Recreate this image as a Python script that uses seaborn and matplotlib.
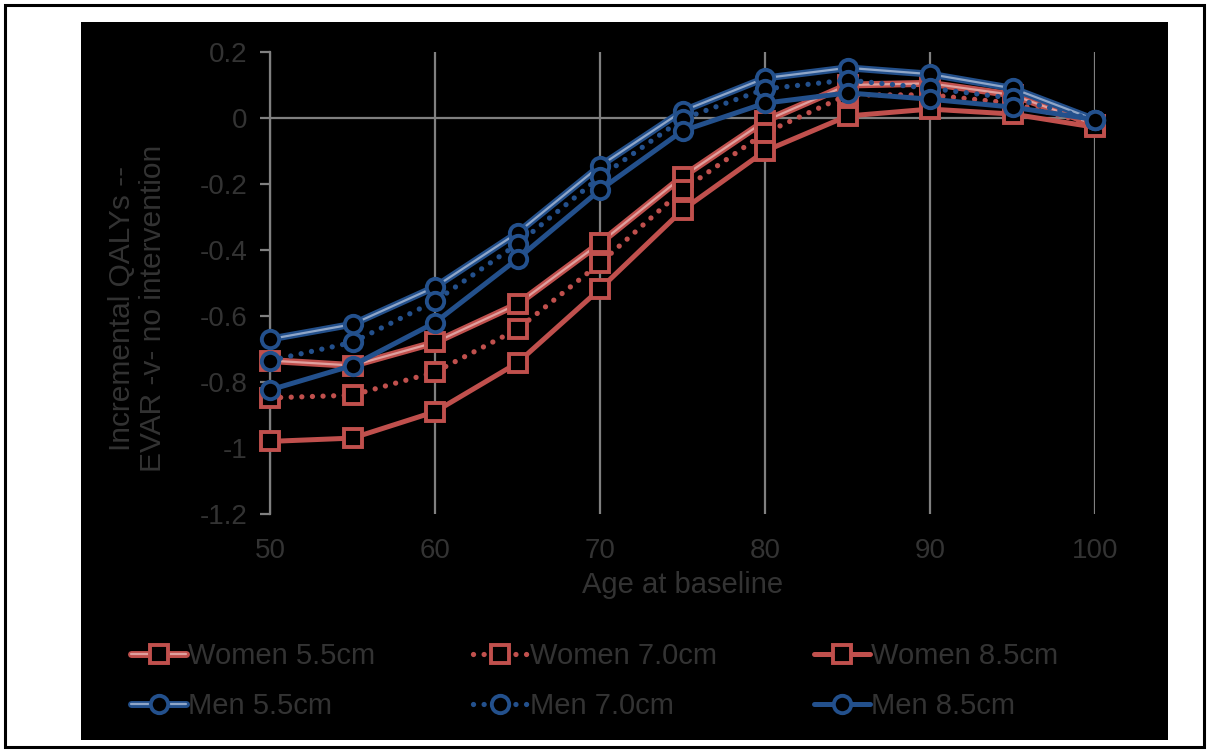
import numpy as np
import pandas as pd
import seaborn as sns
import matplotlib.pyplot as plt
import matplotlib.patheffects as pe
from matplotlib.lines import Line2D
from matplotlib.patches import Rectangle
from matplotlib.legend_handler import HandlerTuple

# data
ages = [50, 55, 60, 65, 70, 75, 80, 85, 90, 95, 100]
women_55 = [-0.735, -0.750, -0.680, -0.564, -0.379, -0.178, -0.009, 0.100, 0.105, 0.070, -0.020]
women_70 = [-0.848, -0.840, -0.770, -0.640, -0.440, -0.218, -0.045, 0.070, 0.070, 0.045, -0.020]
women_85 = [-0.980, -0.970, -0.890, -0.742, -0.518, -0.279, -0.100, 0.006, 0.027, 0.012, -0.028]
men_55 = [-0.670, -0.625, -0.512, -0.348, -0.145, 0.021, 0.121, 0.152, 0.133, 0.090, -0.005]
men_70 = [-0.735, -0.680, -0.555, -0.382, -0.179, -0.003, 0.088, 0.115, 0.090, 0.060, -0.005]
men_85 = [-0.824, -0.750, -0.620, -0.427, -0.218, -0.039, 0.045, 0.076, 0.057, 0.033, -0.005]

series_names = ["Women 5.5cm", "Women 7.0cm", "Women 8.5cm",
                "Men 5.5cm", "Men 7.0cm", "Men 8.5cm"]
series_values = [women_55, women_70, women_85, men_55, men_70, men_85]

y_ticks = [0.2, 0, -0.2, -0.4, -0.6, -0.8, -1.0, -1.2]
y_tick_labels = ["0.2", "0", "-0.2", "-0.4", "-0.6", "-0.8", "-1", "-1.2"]
x_ticks = [50, 60, 70, 80, 90, 100]

df = pd.DataFrame({
    "age": ages * len(series_names),
    "qaly": np.concatenate(series_values),
    "series": np.repeat(series_names, len(ages)),
})

sns.set_style("white")
plt.rcParams["font.family"] = ["Liberation Sans", "DejaVu Sans"]
plt.rcParams["axes.unicode_minus"] = False

RED = "#C0504D"
BLUE = "#23508C"
RED_IN = "#E0A09E"
BLUE_IN = "#8FA6C8"
TXT = "#333333"
GRID = "#808080"

style = {
    "Women 5.5cm": (RED, "double", "s"),
    "Women 7.0cm": (RED, "dotted", "s"),
    "Women 8.5cm": (RED, "solid", "s"),
    "Men 5.5cm": (BLUE, "double", "o"),
    "Men 7.0cm": (BLUE, "dotted", "o"),
    "Men 8.5cm": (BLUE, "solid", "o"),
}

fig = plt.figure(figsize=(12.08, 7.51), dpi=100)
fig.patch.set_facecolor("white")

# outer frame and black panel (behind the axes)
fig.add_artist(Rectangle((5 / 1208, 1 - 747 / 751), 1199 / 1208, 742 / 751,
                         transform=fig.transFigure, facecolor="white",
                         edgecolor="black", lw=2.2, zorder=-3))
fig.add_artist(Rectangle((81 / 1208, 1 - 740 / 751), 1087 / 1208, 718 / 751,
                         transform=fig.transFigure, facecolor="black",
                         edgecolor="none", zorder=-2))

ax = fig.add_axes([270 / 1208, 1 - 514 / 751, 825 / 1208, 462 / 751])
ax.set_facecolor("black")

ax.axhline(0, color=GRID, lw=1.6, zorder=1)

handles = {}
for i, name in enumerate(series_names):
    color, kind, marker = style[name]
    sub = df[df["series"] == name]
    z = 3 + i
    if kind == "double":
        inner = RED_IN if color == RED else BLUE_IN
        effects = [pe.Stroke(linewidth=5.0, foreground=color),
                   pe.Stroke(linewidth=1.6, foreground=inner)]
        sns.lineplot(data=sub, x="age", y="qaly", ax=ax, color=color, lw=5.0,
                     path_effects=effects, zorder=z, legend=False, clip_on=False)
        line_h = Line2D([], [], color=color, lw=5.0, path_effects=effects)
    elif kind == "dotted":
        sns.lineplot(data=sub, x="age", y="qaly", ax=ax, color=color, lw=3.8,
                     linestyle=(0, (0.01, 2.0)), dash_capstyle="round",
                     zorder=z, legend=False, clip_on=False)
        line_h = Line2D([], [], color=color, lw=3.8, linestyle=(0, (0.01, 2.0)),
                        dash_capstyle="round")
    else:
        sns.lineplot(data=sub, x="age", y="qaly", ax=ax, color=color, lw=3.6,
                     zorder=z, legend=False, clip_on=False)
        line_h = Line2D([], [], color=color, lw=3.6)
    msize = 13 if marker == "s" else 12.5
    sns.lineplot(data=sub, x="age", y="qaly", ax=ax, color=color, linestyle="none",
                 marker=marker, markersize=msize, markerfacecolor="black",
                 markeredgecolor=color, markeredgewidth=2.8, zorder=z + 0.5,
                 legend=False, clip_on=False)
    mark_h = Line2D([], [], linestyle="none", marker=marker, markersize=msize,
                    markerfacecolor="black", markeredgecolor=color,
                    markeredgewidth=2.8)
    handles[name] = (line_h, mark_h)

ax.set_xlim(50, 100)
ax.set_ylim(-1.2, 0.2)
ax.set_xticks(x_ticks)
ax.set_xticklabels([str(t) for t in x_ticks])
ax.set_yticks(y_ticks)
ax.set_yticklabels(y_tick_labels)

ax.xaxis.grid(True, color=GRID, lw=1.6)
ax.yaxis.grid(False)
for s in ["top", "right", "bottom"]:
    ax.spines[s].set_visible(False)
ax.spines["left"].set_color(GRID)
ax.spines["left"].set_linewidth(1.6)

ax.tick_params(axis="y", left=True, length=7, width=1.6, color=GRID, pad=9,
               labelsize=20, labelcolor=TXT)
ax.tick_params(axis="x", bottom=False, length=0, pad=17, labelsize=20,
               labelcolor=TXT)

ax.set_xlabel("Age at baseline", fontsize=21, color=TXT, labelpad=5)
ax.set_ylabel("Incremental QALYs --\nEVAR -v- no intervention", fontsize=21.5,
              color=TXT, linespacing=1.15)
ax.yaxis.set_label_coords(-0.125, 0.445)

order = ["Women 5.5cm", "Men 5.5cm", "Women 7.0cm", "Men 7.0cm",
         "Women 8.5cm", "Men 8.5cm"]
leg = fig.legend([handles[n] for n in order], order, ncol=3, frameon=False,
                 loc="upper left", bbox_to_anchor=(131 / 1208, 1 - 642 / 751),
                 fontsize=21, labelcolor=TXT, numpoints=1,
                 handler_map={tuple: HandlerTuple(ndivide=1)},
                 handlelength=1.9, handletextpad=0.05, columnspacing=3.35,
                 labelspacing=0.75, borderpad=0, borderaxespad=0)

fig.savefig("out.png", dpi=100, facecolor=fig.get_facecolor())
